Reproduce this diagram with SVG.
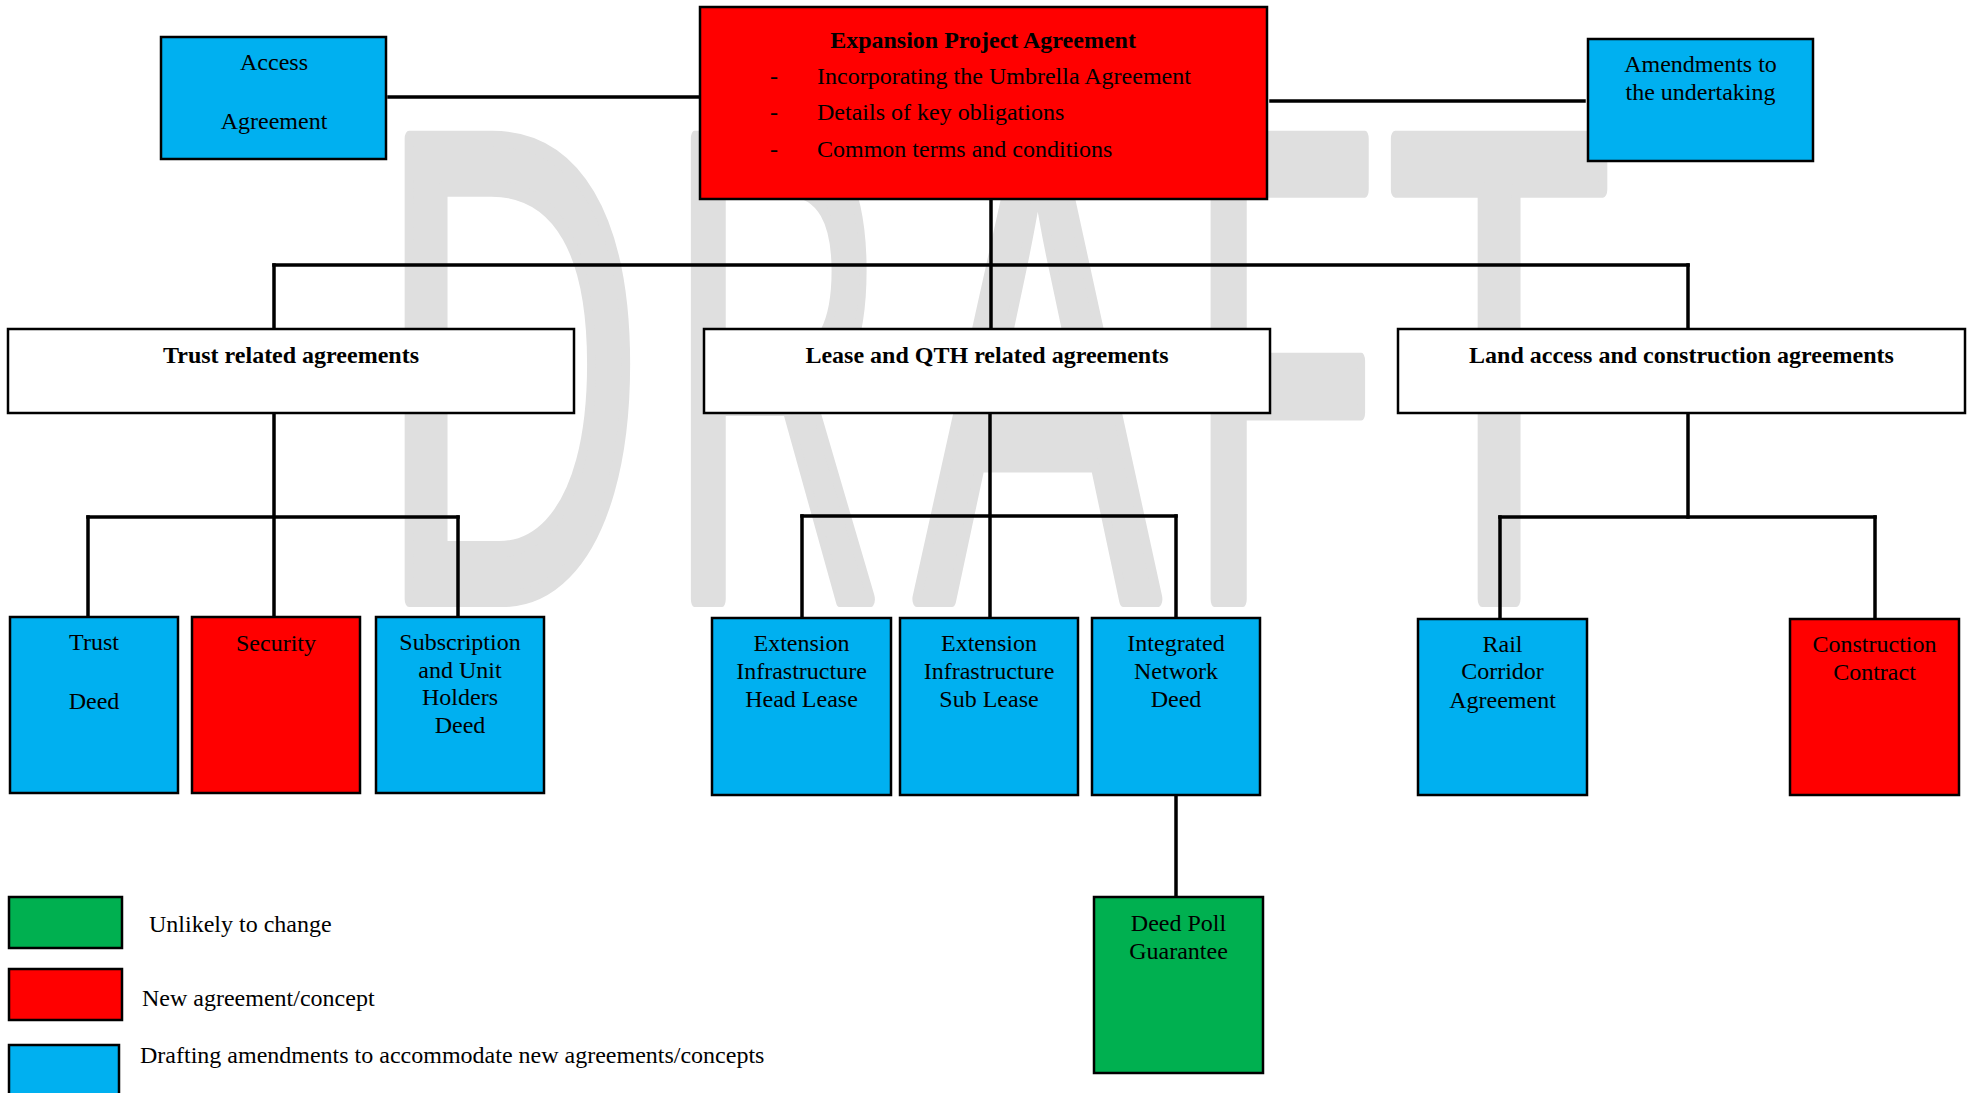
<svg xmlns="http://www.w3.org/2000/svg" width="1970" height="1093" viewBox="0 0 1970 1093">
<style>
  text { font-family: "Liberation Serif", "Times New Roman", serif; font-size: 24px; fill: #000; }
  .c { text-anchor: middle; }
  .b { font-weight: bold; }
  .wm { font-family: "Liberation Sans", Arial, sans-serif; font-size: 669px; fill: #dfdfdf; stroke: #dfdfdf; stroke-width: 16; stroke-linejoin: round; }
  .box { stroke: #000; stroke-width: 2.5; }
  .blue { fill: #00B0F0; }
  .red { fill: #FF0000; }
  .green { fill: #00B050; }
  .white { fill: #FFFFFF; }
  .conn line { stroke: #000; stroke-width: 3.5; stroke-linecap: square; }
</style>

<g id="watermark">
  <text class="wm" transform="translate(379,599) scale(0.547,1)">D</text>
  <text class="wm" transform="translate(670,599) scale(0.445,1)">R</text>
  <text class="wm" transform="translate(916,599) scale(0.544,1)">A</text>
  <text class="wm" transform="translate(1189,599) scale(0.461,1)">F</text>
  <text class="wm" transform="translate(1387,599) scale(0.549,1)">T</text>
</g>

<g id="connectors" class="conn">
  <line x1="389" y1="97" x2="700" y2="97"/>
  <line x1="1271" y1="101" x2="1584" y2="101"/>
  <line x1="991" y1="199" x2="991" y2="329"/>
  <line x1="274" y1="265" x2="1688" y2="265"/>
  <line x1="274" y1="265" x2="274" y2="329"/>
  <line x1="1688" y1="265" x2="1688" y2="329"/>
  <line x1="274" y1="413" x2="274" y2="617"/>
  <line x1="88" y1="517" x2="458" y2="517"/>
  <line x1="88" y1="517" x2="88" y2="617"/>
  <line x1="458" y1="517" x2="458" y2="617"/>
  <line x1="990" y1="413" x2="990" y2="618"/>
  <line x1="802" y1="516" x2="1176" y2="516"/>
  <line x1="802" y1="516" x2="802" y2="618"/>
  <line x1="1176" y1="516" x2="1176" y2="618"/>
  <line x1="1688" y1="413" x2="1688" y2="517"/>
  <line x1="1500" y1="517" x2="1875" y2="517"/>
  <line x1="1500" y1="517" x2="1500" y2="619"/>
  <line x1="1875" y1="517" x2="1875" y2="619"/>
  <line x1="1176" y1="795" x2="1176" y2="897"/>
</g>

<g id="access-agreement">
  <rect class="box blue" x="161" y="37" width="225" height="122"/>
  <text class="c" x="274" y="70">Access</text>
  <text class="c" x="274" y="129">Agreement</text>
</g>

<g id="expansion-project-agreement">
  <rect class="box red" x="700" y="7" width="567" height="192"/>
  <text class="c b" x="983" y="48">Expansion Project Agreement</text>
  <text x="770" y="84">-</text>
  <text x="817" y="84">Incorporating the Umbrella Agreement</text>
  <text x="770" y="120">-</text>
  <text x="817" y="120">Details of key obligations</text>
  <text x="770" y="156.5">-</text>
  <text x="817" y="156.5">Common terms and conditions</text>
</g>

<g id="amendments-undertaking">
  <rect class="box blue" x="1588" y="39" width="225" height="122"/>
  <text class="c" x="1700.5" y="72">Amendments to</text>
  <text class="c" x="1700.5" y="100">the undertaking</text>
</g>

<g id="trust-related">
  <rect class="box white" x="8" y="329" width="566" height="84"/>
  <text class="c b" x="291" y="363">Trust related agreements</text>
</g>

<g id="lease-qth-related">
  <rect class="box white" x="704" y="329" width="566" height="84"/>
  <text class="c b" x="987" y="363">Lease and QTH related agreements</text>
</g>

<g id="land-access-construction">
  <rect class="box white" x="1398" y="329" width="567" height="84"/>
  <text class="c b" x="1681.5" y="363">Land access and construction agreements</text>
</g>

<g id="trust-deed">
  <rect class="box blue" x="10" y="617" width="168" height="176"/>
  <text class="c" x="94" y="650">Trust</text>
  <text class="c" x="94" y="709">Deed</text>
</g>

<g id="security">
  <rect class="box red" x="192" y="617" width="168" height="176"/>
  <text class="c" x="276" y="651">Security</text>
</g>

<g id="subscription-unit-holders-deed">
  <rect class="box blue" x="376" y="617" width="168" height="176"/>
  <text class="c" x="460" y="650">Subscription</text>
  <text class="c" x="460" y="678">and Unit</text>
  <text class="c" x="460" y="705">Holders</text>
  <text class="c" x="460" y="733">Deed</text>
</g>

<g id="extension-head-lease">
  <rect class="box blue" x="712" y="618" width="179" height="177"/>
  <text class="c" x="801.5" y="651">Extension</text>
  <text class="c" x="801.5" y="679">Infrastructure</text>
  <text class="c" x="801.5" y="707">Head Lease</text>
</g>

<g id="extension-sub-lease">
  <rect class="box blue" x="900" y="618" width="178" height="177"/>
  <text class="c" x="989" y="651">Extension</text>
  <text class="c" x="989" y="679">Infrastructure</text>
  <text class="c" x="989" y="707">Sub Lease</text>
</g>

<g id="integrated-network-deed">
  <rect class="box blue" x="1092" y="618" width="168" height="177"/>
  <text class="c" x="1176" y="651">Integrated</text>
  <text class="c" x="1176" y="679">Network</text>
  <text class="c" x="1176" y="707">Deed</text>
</g>

<g id="rail-corridor-agreement">
  <rect class="box blue" x="1418" y="619" width="169" height="176"/>
  <text class="c" x="1502.5" y="652">Rail</text>
  <text class="c" x="1502.5" y="679">Corridor</text>
  <text class="c" x="1502.5" y="707.5">Agreement</text>
</g>

<g id="construction-contract">
  <rect class="box red" x="1790" y="619" width="169" height="176"/>
  <text class="c" x="1874.5" y="652">Construction</text>
  <text class="c" x="1874.5" y="680">Contract</text>
</g>

<g id="deed-poll-guarantee">
  <rect class="box green" x="1094" y="897" width="169" height="176"/>
  <text class="c" x="1178.5" y="931">Deed Poll</text>
  <text class="c" x="1178.5" y="959">Guarantee</text>
</g>

<g id="legend">
  <rect class="box green" x="9" y="897" width="113" height="51"/>
  <text x="149" y="932">Unlikely to change</text>
  <rect class="box red" x="9" y="969" width="113" height="51"/>
  <text x="142" y="1006">New agreement/concept</text>
  <rect class="box blue" x="9" y="1045" width="110" height="60"/>
  <text x="140" y="1063">Drafting amendments to accommodate new agreements/concepts</text>
</g>
</svg>
